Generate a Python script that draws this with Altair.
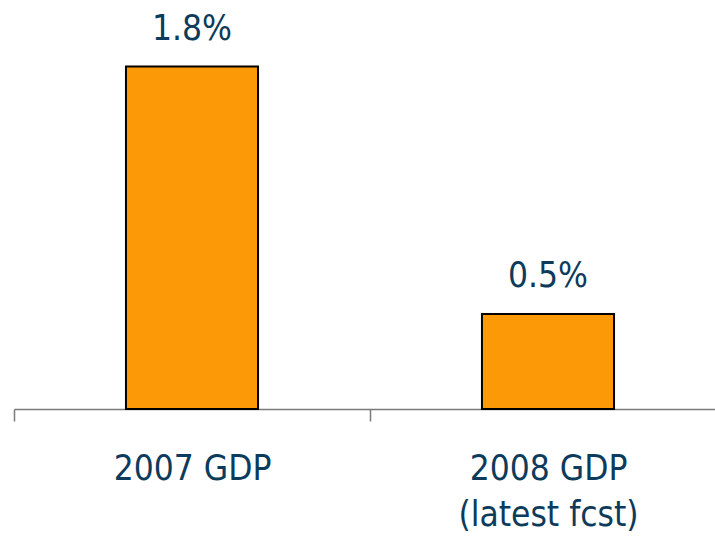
import altair as alt
import pandas as pd

# GDP growth: 2007 actual vs. 2008 latest forecast
categories = ["2007 GDP", "2008 GDP\n(latest fcst)"]
growth = [1.8, 0.5]
value_labels = ["1.8%", "0.5%"]

df = pd.DataFrame({"category": categories, "growth": growth, "label": value_labels})

TEXT = "#0c3b5b"
FONT = "DejaVu Sans Condensed"

x = alt.X(
    "category:N",
    sort=categories,
    title=None,
    scale=alt.Scale(range=[0, 712], paddingInner=0, paddingOuter=0),
    axis=alt.Axis(
        tickBand="extent",
        tickSize=12,
        tickColor="#7a7a7a",
        tickWidth=1.5,
        domainColor="#7a7a7a",
        domainWidth=1.5,
        labelAngle=0,
        labelFont=FONT,
        labelFontSize=35,
        labelColor=TEXT,
        labelBaseline="alphabetic",
        labelPadding=58,
        labelLineHeight=46,
        labelLimit=0,
        labelExpr="split(datum.label, '\\n')",
    ),
)
y = alt.Y(
    "growth:Q",
    scale=alt.Scale(domain=[0, 2.15], nice=False),
    axis=None,
)

bars = alt.Chart(df).mark_bar(
    width=alt.RelativeBandSize(0.371),
    color="#fb9907",
    stroke="#000000",
    strokeWidth=2,
).encode(x=x, y=y)

labels = alt.Chart(df).mark_text(
    baseline="alphabetic",
    dy=-27,
    font=FONT,
    fontSize=35,
    color=TEXT,
).encode(x=x, y=y, text="label:N")

chart = (
    alt.layer(bars, labels)
    .properties(
        width=701,
        height=409,
        autosize=alt.AutoSizeParams(type="none"),
        padding={"left": 14, "right": 0, "top": 0, "bottom": 127},
    )
    .configure_view(stroke=None)
)

chart.save("out.html", embed_options={"renderer": "svg", "actions": False})
